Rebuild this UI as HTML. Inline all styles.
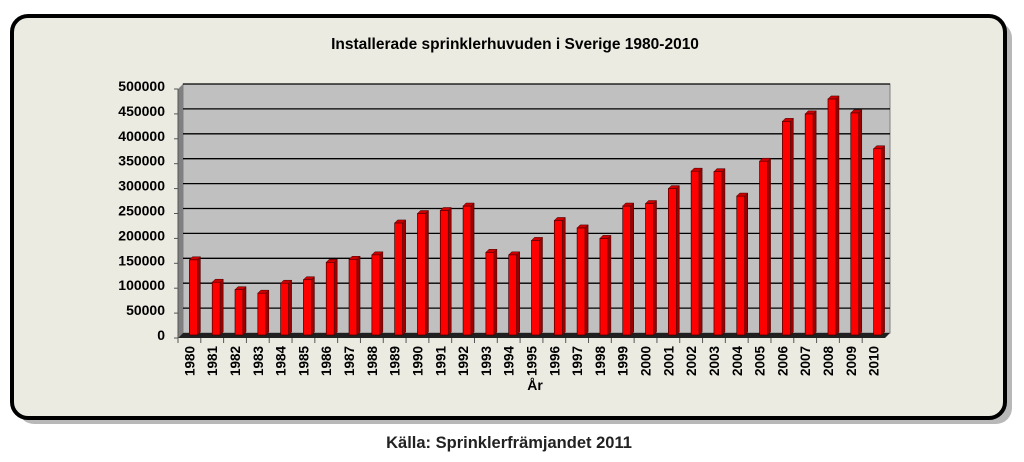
<!DOCTYPE html>
<html><head><meta charset="utf-8"><style>
body{margin:0;width:1024px;height:457px;background:#fff;overflow:hidden;font-family:"Liberation Sans",Arial,sans-serif}
</style></head><body>
<svg width="1024" height="457" viewBox="0 0 1024 457" xmlns="http://www.w3.org/2000/svg">
<rect x="18" y="22" width="994" height="402" rx="16" fill="#9a9a9a" opacity="0.7"/>
<rect x="12" y="16" width="993" height="402" rx="16" fill="#ecebe2" stroke="#000" stroke-width="4"/>
<text x="515" y="49" text-anchor="middle" font-size="15.5" font-weight="bold">Installerade sprinklerhuvuden i Sverige 1980-2010</text>
<g id="plot"></g>
<text x="535" y="390" text-anchor="middle" font-size="14" font-weight="bold">År</text>
<text x="509" y="448" text-anchor="middle" font-size="16.5" font-weight="bold" fill="#222">Källa: Sprinklerfrämjandet 2011</text>
</svg>
<script>
const years=["1980","1981","1982","1983","1984","1985","1986","1987","1988","1989","1990","1991","1992","1993","1994","1995","1996","1997","1998","1999","2000","2001","2002","2003","2004","2005","2006","2007","2008","2009","2010"];
const installed=[147000,102000,87000,80000,100000,107000,142000,148000,157000,221000,240000,246000,255000,162000,157000,186000,226000,211000,190000,255000,260000,290000,325000,324000,275000,345000,425000,440000,470000,442000,370000];
const yTicks=[0,50000,100000,150000,200000,250000,300000,350000,400000,450000,500000];
const NS="http://www.w3.org/2000/svg";
const g=document.getElementById('plot');
const L=183,R=890,T=84,B=333,D=5,MAX=500000;
const y=v=>B-(v/MAX)*(B-T);
const step=(R-L)/years.length;
const x=i=>L+step*(i+0.5);
function mk(t,a){const e=document.createElementNS(NS,t);for(const k in a)e.setAttribute(k,a[k]);g.appendChild(e);return e;}
let e;
e=mk('rect',{x:L,y:T,width:R-L,height:B-T,fill:'#c0c0c0',stroke:'#808080'});

e=mk('polygon',{points:`${L-D},${T+D} ${L},${T} ${L},${B} ${L-D},${B+D}`,fill:'#808080'});

e=mk('polygon',{points:`${L-D},${B+D} ${L},${B} ${R},${B} ${R-D},${B+D}`,fill:'#202020'});

yTicks.forEach(v=>{
 if(v>0){e=mk('line',{x1:L,x2:R,y1:y(v),y2:y(v),stroke:'#000','stroke-width':1.3});
 }
 e=mk('text',{x:L-18,y:y(v)+7,'text-anchor':'end','font-size':14,'font-weight':'bold'});e.textContent=v;
 
 e=mk('line',{x1:L-D-4,x2:L-D,y1:y(v)+D,y2:y(v)+D,stroke:'#555'});
 
});
e=mk('line',{x1:L-D,x2:L-D,y1:T+D,y2:B+D,stroke:'#555'});

installed.forEach((v,i)=>{
 const cx=x(i)-1,w=8,d=3,top=y(v);
 e=mk('rect',{x:cx-w/2,y:top,width:w,height:B+2-top,fill:'#ff0000',stroke:'#400',"stroke-width":0.7});
 
 e=mk('polygon',{points:`${cx+w/2},${top} ${cx+w/2+d},${top-d} ${cx+w/2+d},${B-1} ${cx+w/2},${B+2}`,fill:'#900',stroke:'#400',"stroke-width":0.5});
 
 e=mk('polygon',{points:`${cx-w/2},${top} ${cx-w/2+d},${top-d} ${cx+w/2+d},${top-d} ${cx+w/2},${top}`,fill:'#c00',stroke:'#400',"stroke-width":0.5});
 
 const lx=L-D+step*(i+0.5);
 e=mk('text',{transform:`translate(${lx+5},${B+D+8}) rotate(-90)`,'text-anchor':'end','font-size':13.5,'font-weight':'bold'});e.textContent=years[i];
 
 e=mk('line',{x1:L-D+step*i,x2:L-D+step*i,y1:B+D,y2:B+D+5,stroke:'#555'});
 
});
</script>
</body></html>
